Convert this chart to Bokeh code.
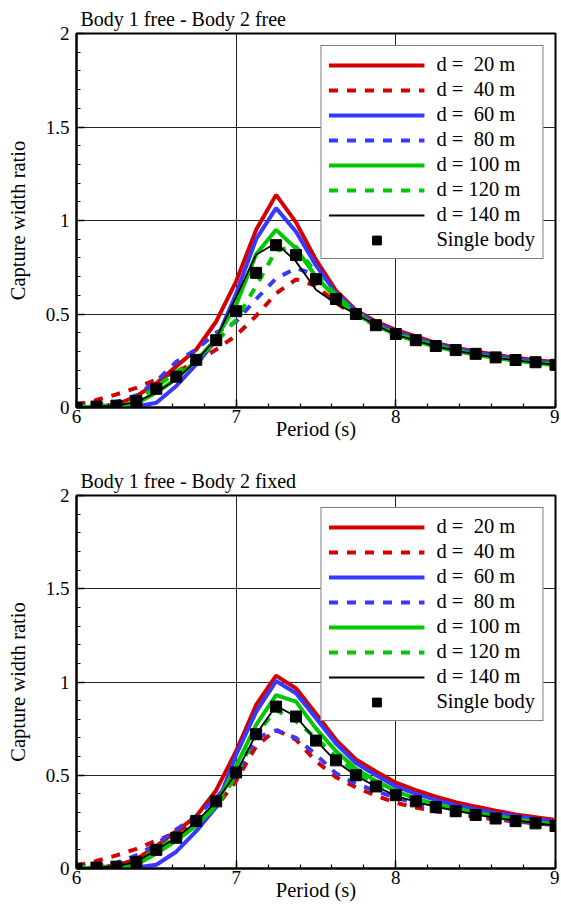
from bokeh.plotting import figure
from bokeh.models import FixedTicker, Legend, LegendItem, NumeralTickFormatter, Range1d
from bokeh.layouts import column
from bokeh.embed import file_html
from bokeh.resources import INLINE
import numpy as np

# ---------------- data ----------------
period = [6.0, 6.125, 6.25, 6.375, 6.5, 6.625, 6.75, 6.875, 7.0, 7.125, 7.25, 7.375, 7.5,
          7.625, 7.75, 7.875, 8.0, 8.125, 8.25, 8.375, 8.5, 8.625, 8.75, 8.875, 9.0]

single_body = [0.0, 0.005, 0.01, 0.035, 0.10, 0.165, 0.255, 0.36, 0.515, 0.72, 0.868, 0.815, 0.686,
               0.58, 0.50, 0.44, 0.393, 0.36, 0.329, 0.307, 0.287, 0.268, 0.254, 0.242, 0.228]

# Body 1 free - Body 2 free
free_d20 = [0.0, 0.005, 0.015, 0.06, 0.13, 0.22, 0.31, 0.46, 0.675, 0.95, 1.137, 0.99, 0.79,
            0.625, 0.52, 0.46, 0.415, 0.38, 0.345, 0.32, 0.30, 0.282, 0.266, 0.253, 0.243]
free_d40 = [0.015, 0.04, 0.07, 0.105, 0.15, 0.19, 0.245, 0.31, 0.385, 0.49, 0.61, 0.685, 0.65,
            0.56, 0.49, 0.44, 0.398, 0.365, 0.335, 0.311, 0.291, 0.273, 0.258, 0.245, 0.233]
free_d60 = [0.0, 0.0, 0.003, 0.005, 0.025, 0.115, 0.23, 0.36, 0.61, 0.90, 1.066, 0.94, 0.76,
            0.61, 0.515, 0.45, 0.405, 0.37, 0.338, 0.313, 0.293, 0.275, 0.26, 0.248, 0.236]
free_d80 = [0.005, 0.015, 0.03, 0.065, 0.14, 0.245, 0.31, 0.40, 0.46, 0.58, 0.69, 0.745, 0.71,
            0.61, 0.515, 0.45, 0.405, 0.37, 0.338, 0.313, 0.292, 0.274, 0.259, 0.247, 0.235]
free_d100 = [0.0, 0.005, 0.01, 0.02, 0.08, 0.155, 0.25, 0.37, 0.55, 0.82, 0.95, 0.85, 0.70,
             0.585, 0.50, 0.44, 0.39, 0.355, 0.325, 0.302, 0.282, 0.265, 0.25, 0.238, 0.226]
free_d120 = [0.005, 0.01, 0.02, 0.04, 0.11, 0.19, 0.26, 0.35, 0.47, 0.65, 0.84, 0.86, 0.72,
             0.60, 0.51, 0.445, 0.395, 0.36, 0.33, 0.306, 0.286, 0.268, 0.253, 0.241, 0.229]
free_d140 = [0.0, 0.005, 0.01, 0.03, 0.08, 0.15, 0.25, 0.37, 0.59, 0.817, 0.88, 0.78, 0.63,
             0.555, 0.50, 0.44, 0.39, 0.357, 0.327, 0.304, 0.284, 0.267, 0.252, 0.24, 0.228]

# Body 1 free - Body 2 fixed
fixed_d20 = [0.0, 0.005, 0.015, 0.05, 0.12, 0.20, 0.28, 0.42, 0.63, 0.877, 1.034, 0.966, 0.83,
             0.69, 0.585, 0.52, 0.46, 0.42, 0.385, 0.355, 0.332, 0.31, 0.29, 0.275, 0.26]
fixed_d40 = [0.015, 0.04, 0.07, 0.105, 0.15, 0.19, 0.25, 0.33, 0.47, 0.655, 0.744, 0.69, 0.575,
             0.49, 0.435, 0.39, 0.352, 0.327, 0.306, 0.29, 0.276, 0.263, 0.252, 0.242, 0.232]
fixed_d60 = [0.0, 0.0, 0.003, 0.005, 0.02, 0.09, 0.20, 0.33, 0.61, 0.84, 1.005, 0.94, 0.806,
             0.67, 0.565, 0.50, 0.44, 0.40, 0.368, 0.34, 0.318, 0.297, 0.28, 0.265, 0.25]
fixed_d80 = [0.005, 0.015, 0.03, 0.07, 0.13, 0.21, 0.28, 0.38, 0.50, 0.70, 0.74, 0.70, 0.61,
             0.51, 0.455, 0.415, 0.38, 0.35, 0.325, 0.305, 0.288, 0.272, 0.258, 0.246, 0.235]
fixed_d100 = [0.0, 0.005, 0.01, 0.02, 0.08, 0.15, 0.23, 0.34, 0.55, 0.77, 0.93, 0.895, 0.75,
              0.63, 0.535, 0.47, 0.415, 0.375, 0.345, 0.32, 0.30, 0.28, 0.265, 0.25, 0.237]
fixed_d120 = [0.005, 0.01, 0.02, 0.04, 0.10, 0.17, 0.24, 0.33, 0.50, 0.72, 0.85, 0.79, 0.70,
              0.60, 0.515, 0.455, 0.405, 0.368, 0.34, 0.315, 0.295, 0.276, 0.26, 0.247, 0.234]
fixed_d140 = [0.0, 0.005, 0.012, 0.035, 0.10, 0.165, 0.25, 0.36, 0.512, 0.72, 0.872, 0.815, 0.687,
              0.575, 0.497, 0.44, 0.39, 0.357, 0.331, 0.31, 0.29, 0.272, 0.258, 0.244, 0.23]

series_labels = ["d = 20 m", "d = 40 m", "d = 60 m", "d = 80 m",
                 "d = 100 m", "d = 120 m", "d = 140 m"]
single_label = "Single body"
titles = ["Body 1 free - Body 2 free", "Body 1 free - Body 2 fixed"]
x_label = "Period (s)"
y_label = "Capture width ratio"

x_ticks = [6, 7, 8, 9]
x_tick_labels = ["6", "7", "8", "9"]
y_ticks = [0, 0.5, 1, 1.5, 2]
y_tick_labels = ["0", "0.5", "1", "1.5", "2"]

# ---------------- style ----------------
FONT = "Liberation Serif"
RED = "#d40000"
BLUE = "#3838ff"
GREEN = "#00c800"
styles = [
    dict(color=RED, width=4, dash="solid"),
    dict(color=RED, width=4, dash="9 9"),
    dict(color=BLUE, width=4, dash="solid"),
    dict(color=BLUE, width=4, dash="9 9"),
    dict(color=GREEN, width=4, dash="solid"),
    dict(color=GREEN, width=4, dash="9 9"),
    dict(color="black", width=1.8, dash="solid"),
]


def pad_label(s):
    # two-digit distances get one extra (non-collapsing) space, as in the original
    num = s.split("=")[1].strip().split(" ")[0]
    if len(num) == 2:
        return "d = \u00a0" + num + " m"
    return s


def make_fig(title, ys, top, bottom, fh):
    p = figure(frame_width=479, frame_height=fh,
               x_range=Range1d(6, 9), y_range=Range1d(0, 2),
               output_backend="svg", toolbar_location=None,
               min_border_left=76, min_border_right=4,
               min_border_top=top, min_border_bottom=bottom,
               title=title)
    p.title.text_font = FONT
    p.title.text_font_size = "20px"
    p.title.text_font_style = "normal"
    p.title.text_color = "black"
    p.title.align = "left"
    p.title.offset = 4
    if "standoff" in p.title.properties():
        p.title.standoff = 7

    p.outline_line_color = "black"
    p.outline_line_width = 2
    p.background_fill_color = "white"
    p.border_fill_color = "white"

    xt = FixedTicker(ticks=x_ticks, minor_ticks=list(np.round(np.arange(6, 9.01, 0.2), 3)))
    yt = FixedTicker(ticks=y_ticks, minor_ticks=list(np.round(np.arange(0, 2.001, 0.1), 3)))
    p.xaxis.ticker = xt
    p.yaxis.ticker = yt
    p.xgrid.ticker = xt
    p.ygrid.ticker = yt
    p.yaxis.formatter = NumeralTickFormatter(format="0.[0]")
    p.xaxis.major_label_overrides = {float(t): l for t, l in zip(x_ticks, x_tick_labels)}
    p.yaxis.major_label_overrides = {float(t): l for t, l in zip(y_ticks, y_tick_labels)}

    for ax in (p.xaxis[0], p.yaxis[0]):
        ax.axis_line_width = 2
        ax.axis_line_color = "black"
        ax.major_tick_in = 8
        ax.major_tick_out = 0
        ax.minor_tick_in = 4
        ax.minor_tick_out = 0
        ax.major_tick_line_width = 1.5
        ax.minor_tick_line_width = 1.2
        ax.major_tick_line_color = "black"
        ax.minor_tick_line_color = "black"
        ax.major_label_text_font = FONT
        ax.major_label_text_font_size = "19px"
        ax.major_label_text_color = "black"
        ax.axis_label_text_font = FONT
        ax.axis_label_text_font_size = "20.5px"
        ax.axis_label_text_font_style = "normal"
        ax.axis_label_text_color = "black"

    p.xaxis.axis_label = x_label
    p.yaxis.axis_label = y_label
    p.xaxis.major_label_standoff = 2
    p.xaxis.axis_label_standoff = -8
    p.yaxis.major_label_standoff = 7
    p.yaxis.axis_label_standoff = 14

    for g in (p.xgrid[0], p.ygrid[0]):
        g.grid_line_color = "#222222"
        g.grid_line_width = 1
        g.grid_line_alpha = 1

    items = []
    for lab, y, st in zip(series_labels, ys, styles):
        r = p.line(period, y, line_color=st["color"], line_width=st["width"],
                   line_dash=st["dash"])
        items.append(LegendItem(label=pad_label(lab), renderers=[r]))
    sq = p.scatter(period, single_body, marker="square", size=11,
                   fill_color="black", line_color="black")
    items.append(LegendItem(label=single_label, renderers=[sq]))

    leg = Legend(items=items, location="top_right")
    leg.label_text_font = FONT
    leg.label_text_font_size = "20.5px"
    leg.label_text_color = "black"
    leg.glyph_width = 96
    leg.glyph_height = 22
    leg.label_height = 22
    leg.label_width = 90
    leg.label_standoff = 12
    leg.spacing = 2
    leg.padding = 7
    leg.margin = 12
    leg.border_line_color = "black"
    leg.border_line_width = 1.5
    leg.background_fill_color = "white"
    leg.background_fill_alpha = 1
    p.add_layout(leg)
    return p


p1 = make_fig(titles[0], [free_d20, free_d40, free_d60, free_d80, free_d100, free_d120, free_d140],
              top=33, bottom=45, fh=374)
p2 = make_fig(titles[1], [fixed_d20, fixed_d40, fixed_d60, fixed_d80, fixed_d100, fixed_d120, fixed_d140],
              top=43, bottom=38, fh=373)

layout = column(p1, p2)
open("out.html", "w").write(file_html(layout, INLINE))
